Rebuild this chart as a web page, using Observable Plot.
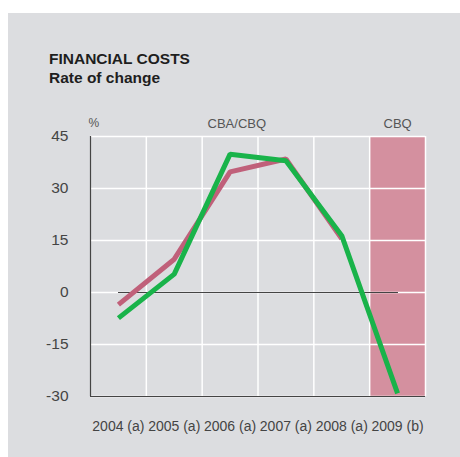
<!DOCTYPE html>
<html>
<head>
<meta charset="utf-8">
<script src="https://cdn.jsdelivr.net/npm/d3@7"></script>
<script src="https://cdn.jsdelivr.net/npm/@observablehq/plot@0.6"></script>
<style>
  html, body { margin: 0; padding: 0; background: #ffffff; }
  #wrap { position: relative; width: 460px; height: 457px; overflow: hidden; }
  #panel { position: absolute; left: 8px; top: 13px; width: 452px; height: 444px; background: #dcdde0; }
  #title { position: absolute; left: 49px; top: 49px; font-family: "Liberation Sans", Arial, sans-serif; font-size: 15.5px; font-weight: 600; color: #1e1e1e; line-height: 19px; }
  #chart { position: absolute; left: 0; top: 0; }
</style>
</head>
<body>
<div id="wrap">
  <div id="panel"></div>
  <div id="title">FINANCIAL COSTS<br>Rate of change</div>
  <div id="chart"></div>
</div>
<script>
const years = [2004, 2005, 2006, 2007, 2008, 2009];
const yearLabels = ["2004 (a)", "2005 (a)", "2006 (a)", "2007 (a)", "2008 (a)", "2009 (b)"];
const cbaYears = [2004, 2005, 2006, 2007, 2008];
const cbaValues = [-3.5, 9.6, 34.8, 38.5, 15.5];
const cbqYears = [2004, 2005, 2006, 2007, 2008, 2009];
const cbqValues = [-7.4, 5.3, 39.9, 38.0, 16.4, -29.1];
const yTicks = [-30, -15, 0, 15, 30, 45];
const bandHeaders = [
  {label: "CBA/CBQ", year: 2006.12},
  {label: "CBQ", year: 2009}
];

const cba = cbaYears.map((y, i) => ({year: y, value: cbaValues[i]}));
const cbq = cbqYears.map((y, i) => ({year: y, value: cbqValues[i]}));
const yMin = yTicks[0], yMax = yTicks[yTicks.length - 1];
const xLo = years[0] - 0.5, xHi = years[years.length - 1] + 0.5;
const cells = years.map(y => ({x1: y - 0.5, x2: y + 0.5}));
const lastYear = years[years.length - 1];

const chart = Plot.plot({
  width: 460,
  height: 457,
  marginLeft: 90,
  marginRight: 35,
  marginTop: 136,
  marginBottom: 61,
  style: {background: "transparent", fontFamily: "Liberation Sans, Arial, sans-serif"},
  x: {domain: [xLo, xHi], axis: null},
  y: {domain: [yMin, yMax], axis: null},
  marks: [
    Plot.rect([{x1: lastYear - 0.5, x2: lastYear + 0.5}], {x1: "x1", x2: "x2", y1: yMin, y2: yMax, fill: "#d4909f"}),
    Plot.ruleY(yTicks, {stroke: "#ffffff", strokeWidth: 1.5}),
    Plot.ruleX(cells.map(c => c.x2), {y1: yMin, y2: yMax, stroke: "#ffffff", strokeWidth: 1.5}),
    Plot.line([{x: years[0], y: 0}, {x: lastYear, y: 0}], {x: "x", y: "y", stroke: "#444444", strokeWidth: 1}),
    Plot.ruleX([xLo], {y1: yMin, y2: yMax, stroke: "#444444", strokeWidth: 1.2}),
    Plot.ruleY([yMin], {stroke: "#444444", strokeWidth: 1.2}),
    Plot.line(cba, {x: "year", y: "value", stroke: "#c0607a", strokeWidth: 5, strokeLinejoin: "miter", strokeLinecap: "butt"}),
    Plot.line(cbq, {x: "year", y: "value", stroke: "#19b34a", strokeWidth: 5, strokeLinejoin: "miter", strokeLinecap: "butt"}),
    Plot.axisY({ticks: yTicks, tickSize: 0, tickPadding: 22, fontSize: 15.5, fill: "#444444", tickFormat: d => String(d)}),
    Plot.axisX({ticks: years, tickSize: 0, tickPadding: 25, fontSize: 14, fill: "#444444", tickFormat: (d) => yearLabels[years.indexOf(d)]}),
    Plot.text(bandHeaders, {x: "year", y: yMax, text: "label", dy: -13, fontSize: 13, fill: "#555555"}),
    Plot.text(["%"], {x: xLo, y: yMax, text: d => d, dy: -13, textAnchor: "start", dx: -2, fontSize: 12, fill: "#555555"})
  ]
});
document.getElementById("chart").appendChild(chart);
</script>
</body>
</html>
